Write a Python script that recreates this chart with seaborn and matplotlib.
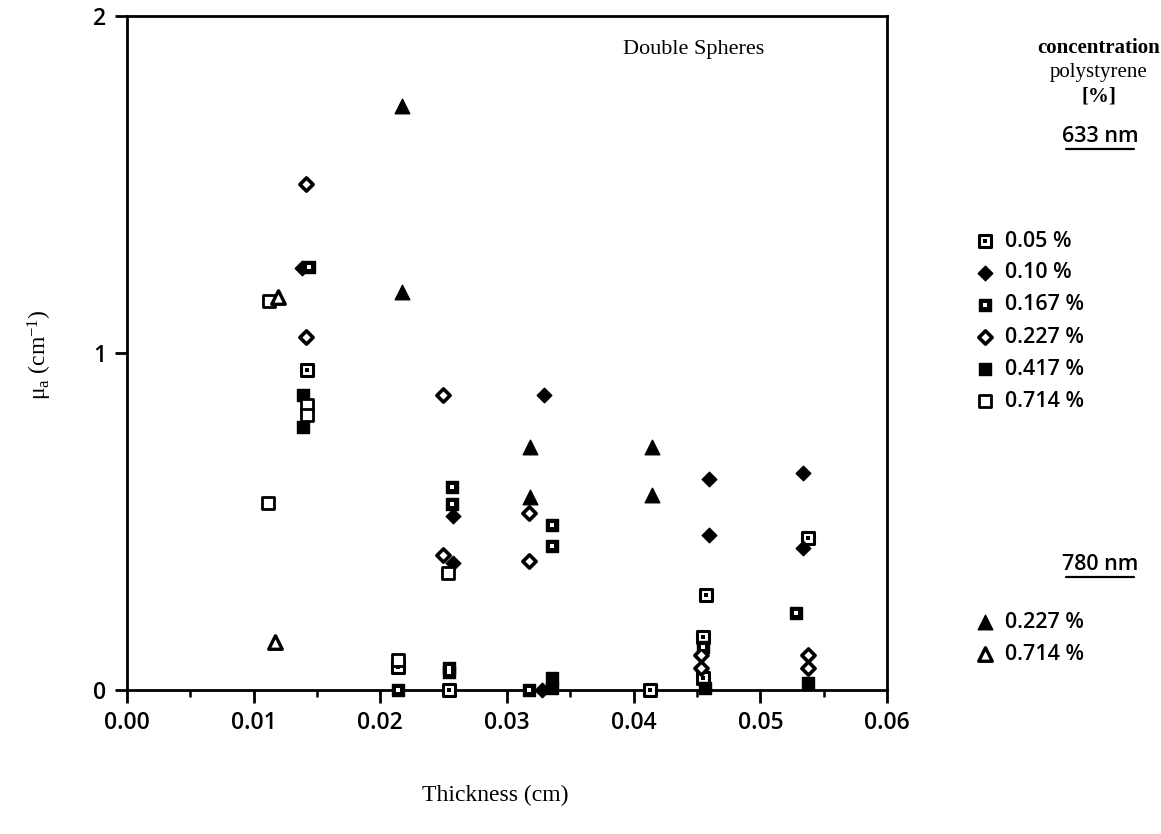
import numpy as np
import pandas as pd
import matplotlib
matplotlib.use("Agg")
import matplotlib.pyplot as plt
import seaborn as sns

# ---------------- data (thickness cm, mu_a cm^-1) ----------------
x_005 = [0.01418, 0.02141, 0.02544, 0.04128, 0.04570, 0.05377, 0.04549, 0.04549]
y_005 = [0.950, 0.068, 0.000, 0.000, 0.282, 0.450, 0.158, 0.035]

x_010 = [0.01379, 0.02574, 0.02574, 0.03291, 0.03273, 0.04597, 0.04597, 0.05338, 0.05333]
y_010 = [1.252, 0.516, 0.377, 0.875, 0.000, 0.625, 0.460, 0.643, 0.420]

x_0167 = [0.01436, 0.02563, 0.02563, 0.03357, 0.03357, 0.02141, 0.03175, 0.02544, 0.02544, 0.05280, 0.04549]
y_0167 = [1.254, 0.601, 0.551, 0.490, 0.428, 0.000, 0.000, 0.054, 0.065, 0.228, 0.129]

x_0227 = [0.01411, 0.01411, 0.02497, 0.02491, 0.03176, 0.03176, 0.04530, 0.04530, 0.05377, 0.05377]
y_0227 = [1.501, 1.048, 0.875, 0.400, 0.524, 0.384, 0.104, 0.064, 0.104, 0.064]

x_0417 = [0.01392, 0.01392, 0.03352, 0.03352, 0.04560, 0.05377]
y_0417 = [0.875, 0.780, 0.035, 0.005, 0.005, 0.020]

x_0714 = [0.01123, 0.01110, 0.01418, 0.01418, 0.02141, 0.02535]
y_0714 = [1.155, 0.556, 0.846, 0.816, 0.088, 0.347]

x_780_0227 = [0.02168, 0.02168, 0.03181, 0.03181, 0.04141, 0.04141]
y_780_0227 = [1.733, 1.182, 0.722, 0.574, 0.722, 0.579]

x_780_0714 = [0.01194, 0.01168]
y_780_0714 = [1.167, 0.143]

labels_633 = ["0.05 %", "0.10 %", "0.167 %", "0.227 %", "0.417 %", "0.714 %"]
labels_780 = ["0.227 %", "0.714 %"]
x_ticks = [0.00, 0.01, 0.02, 0.03, 0.04, 0.05, 0.06]
x_ticklabels = ["0.00", "0.01", "0.02", "0.03", "0.04", "0.05", "0.06"]
y_ticks = [0, 1, 2]
y_ticklabels = ["0", "1", "2"]

# ---------------- styling ----------------
sns.set_theme(style="white")
plt.rcParams["font.family"] = ["DejaVu Sans"]
plt.rcParams["mathtext.fontset"] = "custom"
plt.rcParams["mathtext.rm"] = "Liberation Serif"
plt.rcParams["mathtext.it"] = "Liberation Serif"

W, H = 1161, 834
fig = plt.figure(figsize=(W / 100, H / 100), dpi=100)
fig.patch.set_facecolor("white")

def fx(px):
    return px / W

def fy(py):
    return 1 - py / H

ax = fig.add_axes([fx(127), fy(690), fx(887) - fx(127), fy(16) - fy(690)])
ax.set_facecolor("white")

STYLES = {
    "005": dict(marker="s", s=70, fc="white", ec="black", lw=2.2, dot="black", ds=6),
    "010": dict(marker="D", s=55, fc="black", ec="black", lw=1.0, dot=None, ds=0),
    "0167": dict(marker="s", s=75, fc="black", ec="black", lw=1.0, dot="white", ds=5),
    "0227": dict(marker="D", s=45, fc="white", ec="black", lw=2.6, dot=None, ds=0),
    "0417": dict(marker="s", s=80, fc="black", ec="black", lw=1.0, dot=None, ds=0),
    "0714": dict(marker="s", s=80, fc="white", ec="black", lw=2.0, dot=None, ds=0),
    "780a": dict(marker="^", s=110, fc="black", ec="black", lw=1.0, dot=None, ds=0),
    "780b": dict(marker="^", s=95, fc="white", ec="black", lw=2.4, dot=None, ds=0),
}

def draw(axis, xs, ys, key):
    st = STYLES[key]
    df = pd.DataFrame({"x": xs, "y": ys})
    sns.scatterplot(data=df, x="x", y="y", ax=axis, marker=st["marker"], s=st["s"],
                    color=st["fc"], edgecolor=st["ec"], linewidth=st["lw"],
                    legend=False, zorder=3, clip_on=False)
    if st["dot"] is not None:
        sns.scatterplot(data=df, x="x", y="y", ax=axis, marker="s", s=st["ds"],
                        color=st["dot"], edgecolor=st["dot"], linewidth=0,
                        legend=False, zorder=4, clip_on=False)

draw(ax, x_005, y_005, "005")
draw(ax, x_010, y_010, "010")
draw(ax, x_0167, y_0167, "0167")
draw(ax, x_0227, y_0227, "0227")
draw(ax, x_0417, y_0417, "0417")
draw(ax, x_0714, y_0714, "0714")
draw(ax, x_780_0227, y_780_0227, "780a")
draw(ax, x_780_0714, y_780_0714, "780b")

ax.set_xlim(0, 0.06)
ax.set_ylim(0, 2)
ax.set_xticks(x_ticks)
ax.set_xticklabels(x_ticklabels)
ax.set_xticks(np.arange(0.005, 0.06, 0.01), minor=True)
ax.set_yticks(y_ticks)
ax.set_yticklabels(y_ticklabels)
for sp in ax.spines.values():
    sp.set_visible(True)
    sp.set_color("black")
    sp.set_linewidth(2.0)
ax.tick_params(axis="both", which="major", direction="out", length=9, width=2.0,
               color="black", labelsize=16.5, pad=6, bottom=True, left=True)
ax.tick_params(axis="x", which="minor", direction="out", length=5, width=1.8,
               color="black", bottom=True)
for lab in ax.get_xticklabels() + ax.get_yticklabels():
    lab.set_fontfamily("Open Sans")
    lab.set_fontweight("semibold")
    lab.set_color("black")
ax.set_xlabel("")
ax.set_ylabel("")
ax.grid(False)

# axis titles
fig.text(fx(495), fy(795), "Thickness (cm)", ha="center", va="center",
         fontsize=17, family="Liberation Serif", color="black")
fig.text(fx(40), fy(355), "\u03bc$_\\mathrm{a}$ (cm$^{-1}$)", ha="center", va="center",
         rotation=90, fontsize=17, family="Liberation Serif", color="black")

ax.text(0.745, 0.95, "Double Spheres", transform=ax.transAxes, ha="center", va="center",
        fontsize=16, family="Liberation Serif", color="black")

# legend block (manual)
lx = 1099
fig.text(fx(lx), fy(48), "concentration", ha="center", va="center", fontsize=15,
         family="Liberation Serif", weight="bold", color="black")
fig.text(fx(lx), fy(72), "polystyrene", ha="center", va="center", fontsize=15,
         family="Liberation Serif", color="black")
fig.text(fx(lx), fy(96), "[%]", ha="center", va="center", fontsize=15,
         family="Liberation Serif", weight="bold", color="black")

def header(y, txt):
    fig.text(fx(1100), fy(y), txt, ha="center", va="center", fontsize=15.5,
             family="Open Sans", weight="semibold", color="black")
    fig.lines.append(plt.Line2D([fx(1066), fx(1134)], [fy(y + 12), fy(y + 12)],
                                transform=fig.transFigure, color="black", lw=1.6))

header(137, "633 nm")
header(565, "780 nm")

lax = fig.add_axes([0, 0, 1, 1], facecolor="none")
lax.set_xlim(0, W)
lax.set_ylim(H, 0)
lax.axis("off")

rows_633 = [241, 273, 305, 337, 369, 401]
keys_633 = ["005", "010", "0167", "0227", "0417", "0714"]
for r, k, lab in zip(rows_633, keys_633, labels_633):
    draw(lax, [985], [r], k)
    lax.text(1005, r, lab, ha="left", va="center", fontsize=15.5, family="Open Sans",
             weight="semibold", color="black")

rows_780 = [622, 654]
keys_780 = ["780a", "780b"]
for r, k, lab in zip(rows_780, keys_780, labels_780):
    draw(lax, [985], [r], k)
    lax.text(1005, r, lab, ha="left", va="center", fontsize=15.5, family="Open Sans",
             weight="semibold", color="black")
lax.set_xlabel("")
lax.set_ylabel("")

fig.savefig("out.png", dpi=100, facecolor="white")
